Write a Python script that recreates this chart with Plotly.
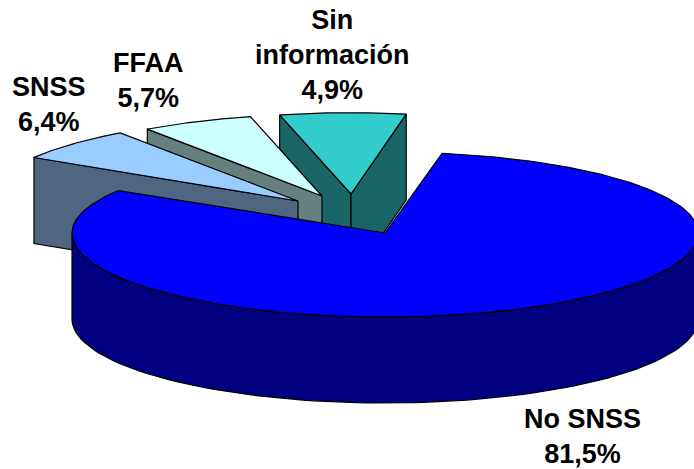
import numpy as np
import plotly.graph_objects as go

# Data
categories = ["No SNSS", "SNSS", "FFAA", "Sin información"]
label_values = ["81,5%", "6,4%", "5,7%", "4,9%"]
drawn_shares = [80.85, 6.5, 5.95, 6.7]   # share of the circle each slice occupies as drawn

face_colors = ["#0000FF", "#99CCFF", "#CCFFFF", "#33CCCC"]
wall_colors = ["#000080", "#4F6682", "#668080", "#1A6666"]

# 3-D projection of the pie
CX, CY = 385, 233      # pie centre in page pixels
RX, RY = 313, 84       # ellipse radii
DEPTH = 86             # height of the pie
START = 79.5           # angle where the first slice starts, going clockwise
BACK = 0.965           # perspective: the far half of the big slice looks flatter
apex = {0: (385, 233), 1: (298, 201), 2: (322, 196), 3: (351, 194)}
scale = {0: 1.0, 1: 0.99, 2: 0.972, 3: 0.968}
label_pos = {0: (582, 436), 1: (49, 104), 2: (148, 80), 3: (332, 55)}

# angular extents from the shares
edges = START - np.cumsum([0] + [s * 3.6 for s in drawn_shares])


def arc(i, t0, t1, n=90):
    t = np.radians(np.linspace(t0, t1, n))
    ax, ay = apex[i]
    s = np.sin(t)
    if i == 0:
        s = np.where(s > 0, s * BACK, s)
    return ax + RX * scale[i] * np.cos(t), ay - RY * scale[i] * s


fig = go.Figure()


def poly(xs, ys, fill, name, lw=1.2):
    fig.add_trace(go.Scatter(
        x=list(xs), y=list(ys), mode="lines", fill="toself", fillcolor=fill,
        line=dict(color="black", width=lw), name=name, hoverinfo="name",
        showlegend=False))


def cut_wall(i, t):
    ax, ay = apex[i]
    x, y = arc(i, t, t, 1)
    poly([ax, x[0], x[0], ax, ax], [ay, y[0], y[0] + DEPTH, ay + DEPTH, ay],
         wall_colors[i], categories[i])


# exploded slices, back to front, each slice shows the walls facing the viewer
for i in (3, 2, 1):
    t_lead, t_trail = edges[i], edges[i + 1]   # t_lead is the larger angle (left)
    cut_wall(i, t_lead)
    if i == 3:
        cut_wall(i, t_trail)
    ax, ay = apex[i]
    x, y = arc(i, t_lead, t_trail)
    poly([ax, *x, ax], [ay, *y, ay], face_colors[i], categories[i])

# main slice: the rim, then the top face
x, y = arc(0, 180, 360)
poly([*x, *x[::-1], x[0]], [*y, *(y[::-1] + DEPTH), y[0]], wall_colors[0], categories[0])
x, y = arc(0, edges[0], edges[1], 360)
poly([CX, *x, CX], [CY, *y, CY], face_colors[0], categories[0])

for i, (cat, val) in enumerate(zip(categories, label_values)):
    text = cat.replace(" ", "<br>") if i == 3 else cat
    lx, ly = label_pos[i]
    fig.add_annotation(x=lx, y=ly, text=f"{text}<br>{val}", showarrow=False,
                       xanchor="center", yanchor="middle", align="center",
                       font=dict(family="Liberation Sans", size=27, color="black", weight="bold"))

fig.update_layout(
    width=694, height=469, margin=dict(l=0, r=0, t=0, b=0),
    paper_bgcolor="white", plot_bgcolor="white", showlegend=False,
    xaxis=dict(range=[0, 694], visible=False, fixedrange=True),
    yaxis=dict(range=[469, 0], visible=False, fixedrange=True),
)
fig.write_html("out.html", config={"displayModeBar": False},
               post_script="document.body.style.margin='0';document.body.style.overflow='hidden';")
